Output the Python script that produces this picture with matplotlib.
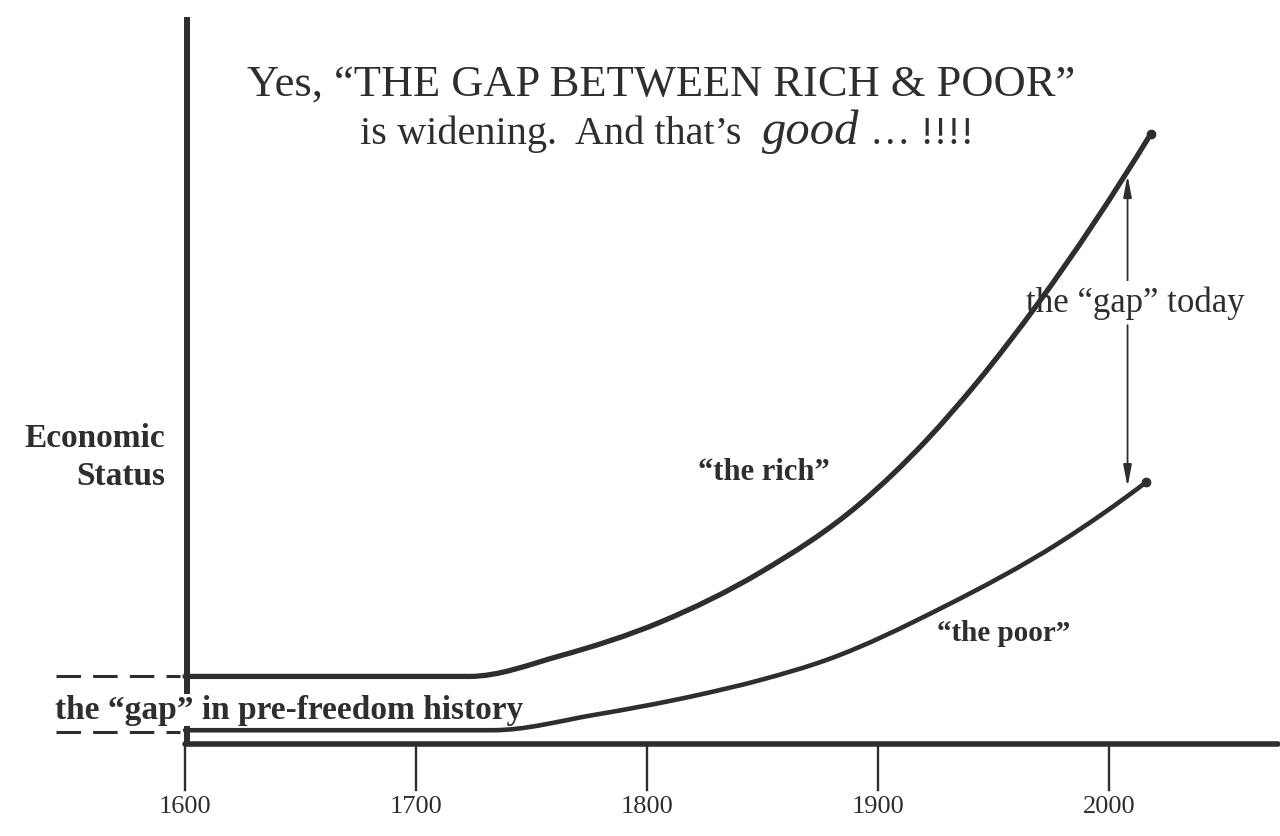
import matplotlib
matplotlib.use("Agg")
import matplotlib.pyplot as plt
from matplotlib.path import Path
from matplotlib.patches import PathPatch

# ---- data ----
rich_years = [1600, 1723, 1762, 1806, 1849, 1892, 1921, 1943, 1969, 2018]
rich_values = [9.3, 9.3, 12.1, 16.8, 23.6, 33.0, 41.8, 49.8, 60.5, 83.9]
poor_years = [1600, 1733, 1777, 1820, 1849, 1878, 1928, 1979, 2016]
poor_values = [1.9, 1.9, 4.0, 6.6, 8.8, 11.6, 18.8, 27.8, 36.0]
tick_years = [1600, 1700, 1800, 1900, 2000]
tick_labels = ["1600", "1700", "1800", "1900", "2000"]

INK = "#2e2e2e"
SERIF = ["Liberation Serif", "DejaVu Serif"]

fig = plt.figure(figsize=(12.8, 8.37), dpi=100)
fig.patch.set_facecolor("white")
ax = fig.add_axes([0, 0, 1, 1])
ax.set_xlim(1519.9, 2074.0)
ax.set_ylim(-12.65, 102.48)
ax.axis("off")


def smooth_path(xs, ys):
    """Straight flat segment, then a smooth cubic (Hermite as Bezier) through the points."""
    n = len(xs)
    h = [xs[i + 1] - xs[i] for i in range(n - 1)]
    sec = [(ys[i + 1] - ys[i]) / h[i] for i in range(n - 1)]
    m = [0.0] * n
    for i in range(2, n - 1):
        m[i] = (h[i] * sec[i - 1] + h[i - 1] * sec[i]) / (h[i - 1] + h[i])
    m[n - 1] = sec[-1] + (sec[-1] - sec[-2]) * h[-1] / (h[-1] + h[-2])
    verts = [(xs[0], ys[0]), (xs[1], ys[1])]
    codes = [Path.MOVETO, Path.LINETO]
    for i in range(1, n - 1):
        dx = h[i]
        c1 = (xs[i] + dx / 3, ys[i] + m[i] * dx / 3)
        c2 = (xs[i + 1] - dx / 3, ys[i + 1] - m[i + 1] * dx / 3)
        verts += [c1, c2, (xs[i + 1], ys[i + 1])]
        codes += [Path.CURVE4] * 3
    return Path(verts, codes)


# axes drawn as in the sketch
ax.plot([1600.8, 1600.8], [0, 100.0], color=INK, lw=4.3, solid_capstyle="butt", zorder=3)
ax.plot([1600, 2073], [0, 0], color=INK, lw=4.0, solid_capstyle="round", zorder=3)
for yr, lab in zip(tick_years, tick_labels):
    ax.plot([yr, yr], [0, -6.3], color=INK, lw=1.7, zorder=2)
    ax.text(yr, -8.5, lab, ha="center", va="center", fontsize=19,
            family=SERIF, color=INK)

# the curves
ax.add_patch(PathPatch(smooth_path(rich_years, rich_values), fill=False,
                       edgecolor=INK, lw=3.8, capstyle="round", joinstyle="round",
                       zorder=4))
ax.add_patch(PathPatch(smooth_path(poor_years, poor_values), fill=False,
                       edgecolor=INK, lw=3.3, capstyle="round", joinstyle="round",
                       zorder=4))
ax.plot([rich_years[-1]], [rich_values[-1]], "o", color=INK, ms=6, zorder=5)
ax.plot([poor_years[-1]], [poor_values[-1]], "o", color=INK, ms=6, zorder=5)

# dashed pre-history extensions
ax.plot([1544, 1598], [rich_values[0], rich_values[0]], color=INK, lw=2.2,
        dashes=(8, 4), zorder=3)
ax.plot([1544, 1598], [poor_values[0] - 0.3, poor_values[0] - 0.3], color=INK,
        lw=2.2, dashes=(8, 4), zorder=3)

# the gap arrow today
gap_x = 2008
ax.annotate("", xy=(gap_x, rich_values[-1] - 5.3), xytext=(gap_x, 62),
            arrowprops=dict(arrowstyle="-|>,head_length=1.3,head_width=0.25",
                            color=INK, lw=1.3), zorder=2)
ax.annotate("", xy=(gap_x, poor_values[-1] - 1.0), xytext=(gap_x, 58),
            arrowprops=dict(arrowstyle="-|>,head_length=1.3,head_width=0.25",
                            color=INK, lw=1.3), zorder=2)
ax.text(2011.5, 60.8, "the “gap” today", ha="center", va="center", fontsize=25,
        family=SERIF, color=INK, zorder=3,
        bbox=dict(facecolor="white", edgecolor="none", pad=3))

# labels
ax.text(1591.5, 39.5, "Economic\nStatus", ha="right", va="center", fontsize=24,
        family=SERIF, color=INK, fontweight="bold", linespacing=1.3)
ax.text(1850.5, 37.5, "“the rich”", ha="center", va="center", fontsize=22,
        family=SERIF, color=INK, fontweight="bold")
ax.text(1925.5, 15.3, "“the poor”", ha="left", va="center", fontsize=21,
        family=SERIF, color=INK, fontweight="bold")
ax.text(1543.5, 4.7, "the “gap” in pre-freedom history", ha="left", va="center",
        fontsize=24, family=SERIF, color=INK, zorder=6, fontweight="bold",
        bbox=dict(facecolor="white", edgecolor="none", pad=0.3))

# title
ax.text(1806, 90.9, "Yes, “THE GAP BETWEEN RICH & POOR”", ha="center",
        va="center", fontsize=32, family=SERIF, color=INK)

renderer = fig.canvas.get_renderer()
parts = [("is widening.  And that’s  ", "normal", 29),
         ("good", "italic", 35),
         (" … !!!!", "normal", 29)]
objs = []
for s, style, fs in parts:
    t = ax.text(0, 0, s, fontsize=fs, family=SERIF, style=style, color=INK,
                ha="left", va="baseline", transform=None)
    objs.append(t)
widths = [o.get_window_extent(renderer).width for o in objs]
total = sum(widths)
x0 = 667 - total / 2
base_y = 837 - 144
for o, w in zip(objs, widths):
    o.set_position((x0, base_y))
    x0 += w

fig.savefig("out.png", dpi=100, facecolor="white")
